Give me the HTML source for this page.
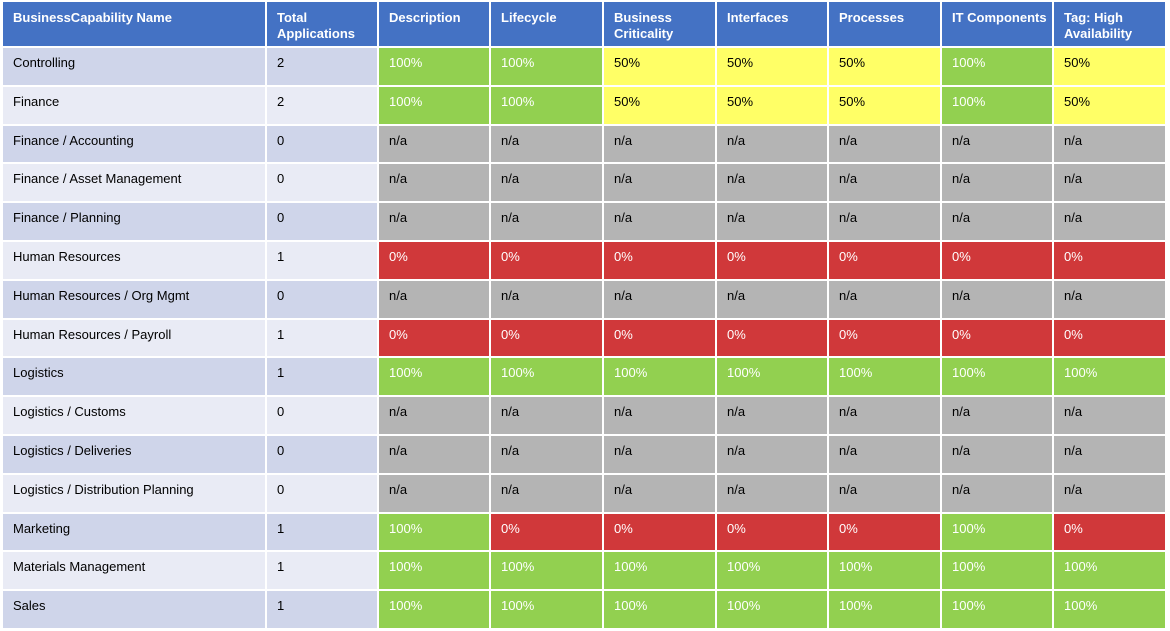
<!DOCTYPE html>
<html><head><meta charset="utf-8">
<style>
body{margin:0;width:1170px;height:631px;background:#fff;font-family:"Liberation Sans",sans-serif;position:relative;overflow:hidden}
.c{position:absolute;box-sizing:border-box;padding:7px 0 0 10px;font-size:13px;color:#000}
.h{background:#4472c4;color:#fff;font-weight:bold;line-height:16px;padding-top:8px}
.g{background:#92d050;color:#fff}.y{background:#ffff66;color:#000}.r{background:#d0383a;color:#fff}.n{background:#b4b4b4;color:#000}
.a{background:#cfd5ea}.b{background:#e9ebf5}
</style></head><body>
<script>
const headers=["BusinessCapability Name","Total<br>Applications","Description","Lifecycle","Business<br>Criticality","Interfaces","Processes","IT Components","Tag: High<br>Availability"];
const names=["Controlling","Finance","Finance / Accounting","Finance / Asset Management","Finance / Planning","Human Resources","Human Resources / Org Mgmt","Human Resources / Payroll","Logistics","Logistics / Customs","Logistics / Deliveries","Logistics / Distribution Planning","Marketing","Materials Management","Sales"];
const totals=[2,2,0,0,0,1,0,1,1,0,0,0,1,1,1];
const values=[
[100,100,50,50,50,100,50],[100,100,50,50,50,100,50],null,null,null,
[0,0,0,0,0,0,0],null,[0,0,0,0,0,0,0],[100,100,100,100,100,100,100],null,null,null,
[100,0,0,0,0,100,0],[100,100,100,100,100,100,100],[100,100,100,100,100,100,100]];
const xs=[2,266,378,490,603,716,828,941,1053,1166];
const top0=47,rh=38.8;
function cell(x0,x1,y0,y1,cls,html,name){
 const d=document.createElement('div');
 d.className='c '+cls;
 d.style.left=(x0+1)+'px';d.style.width=(x1-x0-2)+'px';
 d.style.top=(y0+1)+'px';d.style.height=(y1-y0-2)+'px';
 d.innerHTML=html;
 
 
 document.body.appendChild(d);
}
headers.forEach((h,i)=>cell(xs[i],xs[i+1],1,47,'h',h,'header-'+i));
names.forEach((n,r)=>{
 const y0=Math.round(top0+r*rh),y1=Math.round(top0+(r+1)*rh);
 const bg=r%2?'b':'a';
 cell(xs[0],xs[1],y0,y1,bg,n,'row-name-'+r);
 cell(xs[1],xs[2],y0,y1,bg,String(totals[r]),'row-total-'+r);
 for(let k=0;k<7;k++){
  const v=values[r]?values[r][k]:null;
  const cls=v===null?'n':v>=100?'g':v>0?'y':'r';
  cell(xs[k+2],xs[k+3],y0,y1,cls,v===null?'n/a':v+'%','value-cell-'+r+'-'+k);
 }
});
</script>
</body></html>
